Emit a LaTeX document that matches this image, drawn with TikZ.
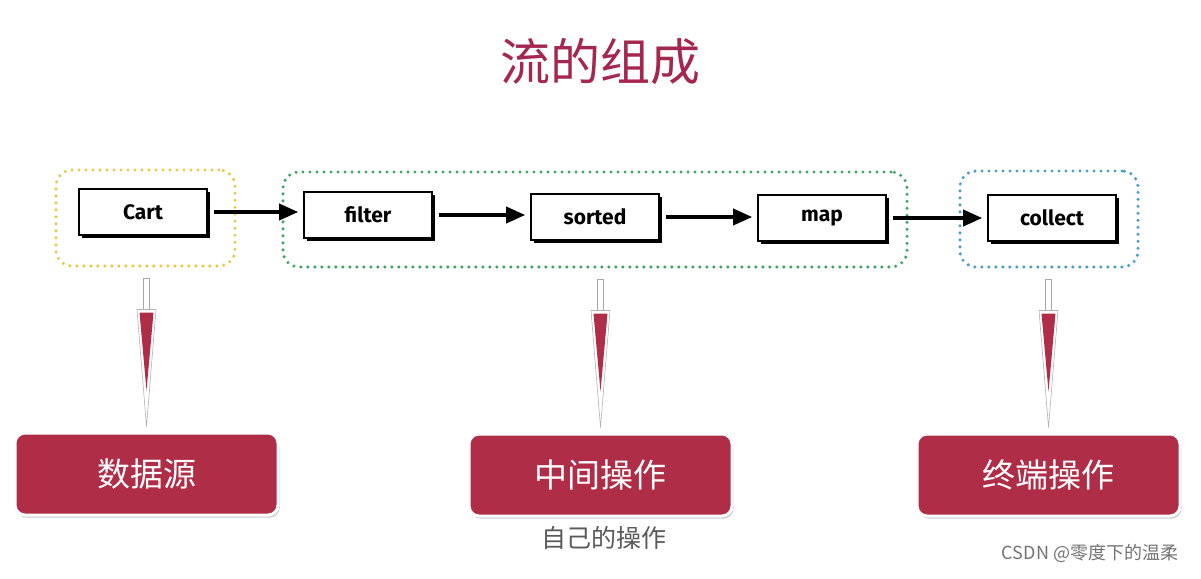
\documentclass[tikz,border=0pt]{standalone}
\usepackage{fontspec}
\setmainfont{Fira Sans}
\newfontfamily\cjk{Noto Sans CJK SC}
\usetikzlibrary{arrows.meta,positioning,shadows,calc}

\definecolor{streamred}{RGB}{176,45,72}
\definecolor{titlered}{RGB}{165,38,78}
\definecolor{dotyellow}{RGB}{228,200,70}
\definecolor{dotgreen}{RGB}{60,165,100}
\definecolor{dotcyan}{RGB}{70,160,195}

\begin{document}
\begin{tikzpicture}[x=1pt, y=-1pt, >=Stealth,
  opbox/.style={draw=black, line width=1.6pt, fill=white,
    minimum width=128pt, minimum height=46pt, inner sep=0pt,
    font=\fontsize{21}{21}\selectfont\bfseries,
    general shadow={fill=black, shadow xshift=2.5pt, shadow yshift=-2.5pt}},
  grp/.style={line width=3.4pt, dash pattern=on 0pt off 7pt, line cap=round,
    rounded corners=16pt, inner sep=0pt},
  stagebox/.style={fill=streamred, draw=white, line width=3pt, rounded corners=10pt,
    minimum width=263pt, minimum height=82pt, inner sep=0pt, text=white,
    font=\cjk\fontsize{33}{33}\selectfont,
    general shadow={fill=black!22, shadow xshift=1.5pt, shadow yshift=-2.5pt}},
  flow/.style={-{Triangle[length=19pt, width=16pt]}, line width=3.6pt,
    shorten <=6pt, shorten >=5pt}]
  \useasboundingbox (0,0) rectangle (1201,578);

  %% Title
  \node[font=\cjk\fontsize{50}{50}\selectfont, text=titlered] (title) at (600,62) {流的组成};

  %% Dotted groups: source / intermediate / terminal
  \node[grp, draw=dotyellow, minimum width=179pt, minimum height=96pt] (srcgrp) at (145.5,218) {};
  \node[grp, draw=dotgreen,  minimum width=624pt, minimum height=95pt] (midgrp) at (595,219.5) {};
  \node[grp, draw=dotcyan,   minimum width=178pt, minimum height=96pt] (endgrp) at (1049,219) {};

  %% Pipeline operations
  \node[opbox] (cart)    at (143,212)  {Cart};
  \node[opbox] (filter)  at (368,215)  {filter};
  \node[opbox] (sorted)  at (595,217)  {sorted};
  \node[opbox] (map)     at (822,218)  {map};
  \node[opbox] (collect) at (1052,218) {collect};

  \foreach \a/\b in {cart/filter, filter/sorted, sorted/map, map/collect}
    \draw[flow] (\a.east) -- (\b.west |- \a.east);

  %% Stage labels
  \node[stagebox] (srcbox) at (146.5,474) {数据源};
  \node[stagebox] (midbox) at (600.5,475) {中间操作};
  \node[stagebox] (endbox) at (1048.5,475) {终端操作};

  %% Down pointers from each group to its label
  \foreach \b in {srcbox, midbox, endbox}{
    \begin{scope}[shift={(\b.north)}]
      \draw[fill=white, draw=black!35, line width=0.6pt] (-3,-153) rectangle (3,-120);
      \draw[fill=white, draw=black!30, line width=0.6pt] (-9.5,-122) -- (9.5,-122) -- (0,-5) -- cycle;
      \fill[streamred] (-7,-119) -- (7,-119) -- (0,-41) -- cycle;
    \end{scope}
  }

  %% Notes
  \node[font=\cjk\fontsize{25}{25}\selectfont, text=black!65] (note) at (604,538) {自己的操作};
  \node[font=\cjk\fontsize{18}{18}\selectfont, text=black!55] (mark) at (1090,553) {CSDN @零度下的温柔};
\end{tikzpicture}
\end{document}
